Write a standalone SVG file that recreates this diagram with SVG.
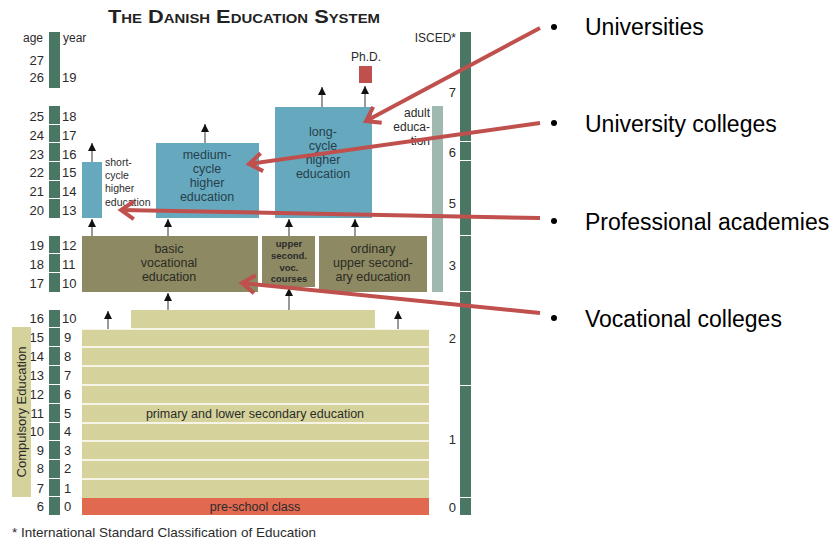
<svg xmlns="http://www.w3.org/2000/svg" width="833" height="542" viewBox="0 0 833 542">
<defs>
<style>
text{font-family:"Liberation Sans",Arial,sans-serif;fill:#2b2b2b}
.axis{fill:#4a7764}
.num{font-size:13px}
.numL{font-size:13px;text-anchor:end}
.blue{fill:#66a9bf}
.olive{fill:#8d8963}
.khaki{fill:#d5d39b}
.bt{font-size:12.5px;text-anchor:middle;fill:#26404b}
.ot{font-size:12.5px;text-anchor:middle;fill:#2b2b22}
.sep{stroke:#ffffff;stroke-width:1.5}
.blk{stroke:#555;stroke-width:1.2;fill:none;marker-end:url(#tri)}
.red{stroke:#c0504d;stroke-width:4;fill:none;marker-end:url(#chev)}
.bul{font-size:23px;fill:#000}
</style>
<marker id="tri" viewBox="0 0 10 10" refX="10" refY="5" markerWidth="8" markerHeight="8" markerUnits="userSpaceOnUse" orient="auto"><path d="M0,0 L10,5 L0,10 Z" fill="#111"/></marker>
<marker id="chev" viewBox="-16 -12 20 24" refX="0" refY="0" markerWidth="20" markerHeight="24" markerUnits="userSpaceOnUse" orient="auto"><path d="M-13,-9 L0,0 L-13,9" fill="none" stroke="#c0504d" stroke-width="4"/></marker>
</defs>
<rect width="833" height="542" fill="#ffffff"/>

<text x="108" y="23" font-size="19" font-weight="bold" font-variant="small-caps" textLength="272" lengthAdjust="spacingAndGlyphs" style="font-variant:small-caps;fill:#222">The Danish Education System</text>

<g id="age-axis">
<text x="43" y="42" font-size="12" text-anchor="end">age</text>
<text x="63" y="42" font-size="12">year</text>
<rect class="axis" x="49" y="32" width="11" height="56"/>
<rect class="axis" x="49" y="106" width="11" height="18"/>
<rect class="axis" x="49" y="125" width="11" height="17"/>
<rect class="axis" x="49" y="143" width="11" height="18"/>
<rect class="axis" x="49" y="162" width="11" height="18"/>
<rect class="axis" x="49" y="181" width="11" height="17"/>
<rect class="axis" x="49" y="199" width="11" height="19"/>
<rect class="axis" x="49" y="236" width="11" height="17"/>
<rect class="axis" x="49" y="254" width="11" height="18"/>
<rect class="axis" x="49" y="273" width="11" height="19"/>
<rect class="axis" x="49" y="310" width="11" height="17"/>
<rect class="axis" x="49" y="328" width="11" height="18"/>
<rect class="axis" x="49" y="347" width="11" height="18"/>
<rect class="axis" x="49" y="366" width="11" height="18"/>
<rect class="axis" x="49" y="385" width="11" height="18"/>
<rect class="axis" x="49" y="404" width="11" height="18"/>
<rect class="axis" x="49" y="423" width="11" height="17"/>
<rect class="axis" x="49" y="441" width="11" height="18"/>
<rect class="axis" x="49" y="460" width="11" height="18"/>
<rect class="axis" x="49" y="479" width="11" height="17"/>
<rect class="axis" x="49" y="497" width="11" height="18"/>
<text class="numL" x="44" y="65">27</text>
<text class="numL" x="44" y="82">26</text><text class="num" x="62" y="82">19</text>
<text class="numL" x="44" y="121">25</text><text class="num" x="62" y="121">18</text>
<text class="numL" x="44" y="140">24</text><text class="num" x="62" y="140">17</text>
<text class="numL" x="44" y="159">23</text><text class="num" x="62" y="159">16</text>
<text class="numL" x="44" y="177">22</text><text class="num" x="62" y="177">15</text>
<text class="numL" x="44" y="196">21</text><text class="num" x="62" y="196">14</text>
<text class="numL" x="44" y="215">20</text><text class="num" x="62" y="215">13</text>
<text class="numL" x="44" y="250">19</text><text class="num" x="62" y="250">12</text>
<text class="numL" x="44" y="269">18</text><text class="num" x="62" y="269">11</text>
<text class="numL" x="44" y="288">17</text><text class="num" x="62" y="288">10</text>
<text class="numL" x="44" y="323">16</text><text class="num" x="62" y="323">10</text>
<text class="numL" x="44" y="342">15</text><text class="num" x="64" y="342">9</text>
<text class="numL" x="44" y="361">14</text><text class="num" x="64" y="361">8</text>
<text class="numL" x="44" y="380">13</text><text class="num" x="64" y="380">7</text>
<text class="numL" x="44" y="399">12</text><text class="num" x="64" y="399">6</text>
<text class="numL" x="44" y="418">11</text><text class="num" x="64" y="418">5</text>
<text class="numL" x="44" y="436">10</text><text class="num" x="64" y="436">4</text>
<text class="numL" x="44" y="455">9</text><text class="num" x="64" y="455">3</text>
<text class="numL" x="44" y="473">8</text><text class="num" x="64" y="473">2</text>
<text class="numL" x="44" y="493">7</text><text class="num" x="64" y="493">1</text>
<text class="numL" x="44" y="511">6</text><text class="num" x="64" y="511">0</text>
</g>

<g id="compulsory">
<rect class="khaki" x="12" y="327" width="19" height="170"/>
<text x="0" y="0" font-size="13" text-anchor="middle" transform="translate(26,412) rotate(-90)">Compulsory Education</text>
</g>

<g id="isced-axis">
<text x="456" y="42" font-size="12" text-anchor="end">ISCED*</text>
<rect class="axis" x="460" y="32" width="11" height="109"/>
<rect class="axis" x="460" y="142" width="11" height="18"/>
<rect class="axis" x="460" y="161" width="11" height="74"/>
<rect class="axis" x="460" y="236" width="11" height="55"/>
<rect class="axis" x="460" y="292" width="11" height="93"/>
<rect class="axis" x="460" y="386" width="11" height="111"/>
<rect class="axis" x="460" y="498" width="11" height="17"/>
<text class="numL" x="456" y="97">7</text>
<text class="numL" x="456" y="157">6</text>
<text class="numL" x="456" y="208">5</text>
<text class="numL" x="456" y="270">3</text>
<text class="numL" x="456" y="343" font-size="11">2</text>
<text class="numL" x="456" y="444" font-size="11">1</text>
<text class="numL" x="456" y="512" font-size="11">0</text>
</g>

<g id="adult-education">
<rect x="432" y="106" width="11" height="186" fill="#9fb8b0"/>
<text x="430" y="117" font-size="12" text-anchor="end">adult</text>
<text x="430" y="131" font-size="12" text-anchor="end">educa-</text>
<text x="430" y="145" font-size="12" text-anchor="end">tion</text>
</g>

<g id="phd">
<rect x="359" y="66" width="13" height="17" fill="#c0504d"/>
<text x="366" y="61" font-size="12" text-anchor="middle">Ph.D.</text>
</g>

<g id="long-cycle">
<rect class="blue" x="275" y="107" width="97" height="111"/>
<text class="bt" x="323" y="136">long-</text>
<text class="bt" x="323" y="150">cycle</text>
<text class="bt" x="323" y="164">higher</text>
<text class="bt" x="323" y="178">education</text>
</g>

<g id="medium-cycle">
<rect class="blue" x="156" y="143" width="103" height="75"/>
<text class="bt" x="207" y="159">medium-</text>
<text class="bt" x="207" y="173">cycle</text>
<text class="bt" x="207" y="187">higher</text>
<text class="bt" x="207" y="201">education</text>
</g>

<g id="short-cycle">
<rect class="blue" x="82" y="162" width="20" height="56"/>
<text x="105" y="166" font-size="10.5">short-</text>
<text x="105" y="179" font-size="10.5">cycle</text>
<text x="105" y="192" font-size="10.5">higher</text>
<text x="105" y="206" font-size="10.5">education</text>
</g>

<g id="basic-vocational">
<rect class="olive" x="82" y="236" width="176" height="56"/>
<text class="ot" x="169" y="253">basic</text>
<text class="ot" x="169" y="267">vocational</text>
<text class="ot" x="169" y="281">education</text>
</g>

<g id="upper-second-voc">
<rect class="olive" x="262" y="236" width="53" height="51"/>
<text x="289" y="247" font-size="9.5" font-weight="bold" text-anchor="middle" fill="#2b2b22">upper</text>
<text x="289" y="259" font-size="9.5" font-weight="bold" text-anchor="middle" fill="#2b2b22">second.</text>
<text x="289" y="271" font-size="9.5" font-weight="bold" text-anchor="middle" fill="#2b2b22">voc.</text>
<text x="289" y="282" font-size="9.5" font-weight="bold" text-anchor="middle" fill="#2b2b22">courses</text>
</g>

<g id="ordinary-upper-secondary">
<rect class="olive" x="319" y="236" width="108" height="56"/>
<text class="ot" x="373" y="253">ordinary</text>
<text class="ot" x="373" y="267">upper second-</text>
<text class="ot" x="373" y="281">ary education</text>
</g>

<g id="primary">
<rect class="khaki" x="131" y="310" width="244" height="19"/>
<rect class="khaki" x="82" y="329" width="347" height="169"/>
<line class="sep" x1="82" y1="329" x2="429" y2="329"/>
<line class="sep" x1="82" y1="347" x2="429" y2="347"/>
<line class="sep" x1="82" y1="366" x2="429" y2="366"/>
<line class="sep" x1="82" y1="385" x2="429" y2="385"/>
<line class="sep" x1="82" y1="404" x2="429" y2="404"/>
<line class="sep" x1="82" y1="423" x2="429" y2="423"/>
<line class="sep" x1="82" y1="441" x2="429" y2="441"/>
<line class="sep" x1="82" y1="460" x2="429" y2="460"/>
<line class="sep" x1="82" y1="479" x2="429" y2="479"/>
<text x="255" y="418" font-size="12.5" text-anchor="middle">primary and lower secondary education</text>
</g>

<g id="pre-school">
<rect x="82" y="498" width="347" height="17" fill="#e0694f"/>
<text x="255" y="511" font-size="12.5" text-anchor="middle">pre-school class</text>
</g>

<g id="connectors">
<line class="blk" x1="92" y1="162" x2="92" y2="143"/>
<line class="blk" x1="205" y1="143" x2="205" y2="124"/>
<line class="blk" x1="322" y1="107" x2="322" y2="87"/>
<line class="blk" x1="365" y1="107" x2="365" y2="86"/>
<line class="blk" x1="92" y1="236" x2="92" y2="219"/>
<line class="blk" x1="168" y1="236" x2="168" y2="219"/>
<line class="blk" x1="289" y1="236" x2="289" y2="219"/>
<line class="blk" x1="355" y1="236" x2="355" y2="219"/>
<line class="blk" x1="108" y1="329" x2="108" y2="311"/>
<line class="blk" x1="168" y1="310" x2="168" y2="293"/>
<line class="blk" x1="289" y1="310" x2="289" y2="288"/>
<line class="blk" x1="398" y1="329" x2="398" y2="311"/>
<line class="red" x1="540" y1="28" x2="366" y2="121"/>
<line class="red" x1="540" y1="123" x2="249" y2="164"/>
<line class="red" x1="540" y1="218" x2="121" y2="210"/>
<line class="red" x1="540" y1="313" x2="242" y2="283"/>
</g>

<g id="bullets">
<circle cx="554" cy="27" r="3" fill="#000"/>
<text class="bul" x="585" y="35">Universities</text>
<circle cx="554" cy="123" r="3" fill="#000"/>
<text class="bul" x="585" y="132">University colleges</text>
<circle cx="554" cy="221" r="3" fill="#000"/>
<text class="bul" x="585" y="230">Professional academies</text>
<circle cx="554" cy="318" r="3" fill="#000"/>
<text class="bul" x="585" y="327">Vocational colleges</text>
</g>

<text x="12" y="537" font-size="13.5">* International Standard Classification of Education</text>
</svg>
